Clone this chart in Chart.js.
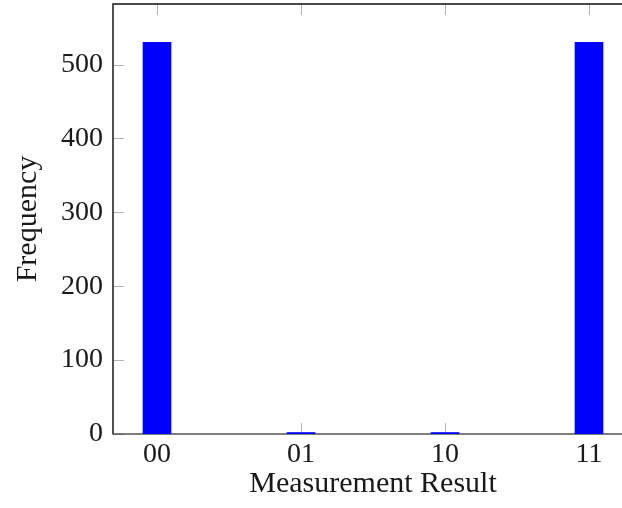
<!DOCTYPE html>
<html>
<head>
<meta charset="utf-8">
<script src="https://cdn.jsdelivr.net/npm/chart.js@4.4.0/dist/chart.umd.min.js"></script>
<style>
  html, body { margin: 0; padding: 0; background: #fff; overflow: hidden; }
  #wrap { width: 645px; height: 508px; }
</style>
</head>
<body>
<div id="wrap"><canvas id="grafico" width="645" height="508"></canvas></div>
<script>
/* ================= DADOS ================= */

const categorias = ["00", "01", "10", "11"];
const frequencias = [530, 2, 2, 530];
const ticksY = [0, 100, 200, 300, 400, 500];

const familia = "'Liberation Serif', 'DejaVu Serif', serif";
const fonteTicks = { family: familia, size: 28 };
const fonteTitulo = { family: familia, size: 30 };
const corTexto = "#1a1a1a";

/* ================= PLUGIN: moldura e ticks internos ================= */

const moldura = {
  id: "moldura",
  beforeDatasetsDraw(chart) {
    const { ctx, chartArea: a, scales } = chart;
    const len = 11;
    ctx.save();
    ctx.strokeStyle = "#b4b4b4";
    ctx.lineWidth = 1;
    ctx.beginPath();
    scales.x.ticks.forEach(t => {
      const px = Math.round(scales.x.getPixelForValue(t.value)) + 0.5;
      ctx.moveTo(px, a.bottom); ctx.lineTo(px, a.bottom - len);
      ctx.moveTo(px, a.top); ctx.lineTo(px, a.top + len);
    });
    scales.y.ticks.forEach(t => {
      const py = Math.round(scales.y.getPixelForValue(t.value)) + 0.5;
      ctx.moveTo(a.left, py); ctx.lineTo(a.left + len, py);
      ctx.moveTo(a.right, py); ctx.lineTo(a.right - len, py);
    });
    ctx.stroke();

    ctx.strokeStyle = "#3a3a3a";
    ctx.lineWidth = 1.3;
    ctx.strokeRect(a.left, a.top, a.right - a.left, a.bottom - a.top);
    ctx.restore();
  },
  afterDatasetsDraw(chart) {
    // lados esquerdo e superior por cima das barras
    const { ctx, chartArea: a } = chart;
    ctx.save();
    ctx.strokeStyle = "#3a3a3a";
    ctx.lineWidth = 1.3;
    ctx.beginPath();
    ctx.moveTo(a.left, a.bottom); ctx.lineTo(a.left, a.top); ctx.lineTo(a.right, a.top);
    ctx.stroke();
    ctx.restore();
  }
};

/* ================= GRÁFICO ================= */

new Chart(document.getElementById("grafico"), {
  type: "bar",
  data: {
    datasets: [{
      label: "Frequency",
      data: frequencias.map((v, i) => ({ x: i, y: v })),
      backgroundColor: "#0000ff",
      borderWidth: 0,
      barThickness: 28
    }]
  },
  options: {
    responsive: false,
    animation: false,
    layout: { padding: { top: 4, right: 12, bottom: 0, left: 0 } },
    plugins: { legend: { display: false }, tooltip: { enabled: false } },
    scales: {
      x: {
        type: "linear",
        offset: false,
        min: -0.3056,
        max: 3.3056,
        grid: { display: false, drawTicks: false },
        border: { display: false },
        afterBuildTicks: s => { s.ticks = categorias.map((_, i) => ({ value: i })); },
        afterFit: s => { s.height = 74; s.paddingLeft = 0; s.paddingRight = 0; },
        ticks: {
          padding: 4,
          font: fonteTicks,
          color: corTexto,
          maxRotation: 0,
          autoSkip: false,
          callback: v => categorias[v] ?? ""
        },
        title: {
          display: true,
          text: "Measurement Result",
          font: fonteTitulo,
          color: corTexto,
          padding: { top: 0, bottom: 6 }
        }
      },
      y: {
        min: 0,
        max: 582,
        grid: { display: false, drawTicks: false },
        border: { display: false },
        afterBuildTicks: s => { s.ticks = ticksY.map(v => ({ value: v })); },
        afterFit: s => { s.width = 113; s.paddingTop = 0; s.paddingBottom = 0; },
        ticks: { padding: 10, font: fonteTicks, color: corTexto },
        title: {
          display: true,
          text: "Frequency",
          font: fonteTitulo,
          color: corTexto,
          padding: { top: 10, bottom: 0 }
        }
      }
    }
  },
  plugins: [moldura]
});
</script>
</body>
</html>
